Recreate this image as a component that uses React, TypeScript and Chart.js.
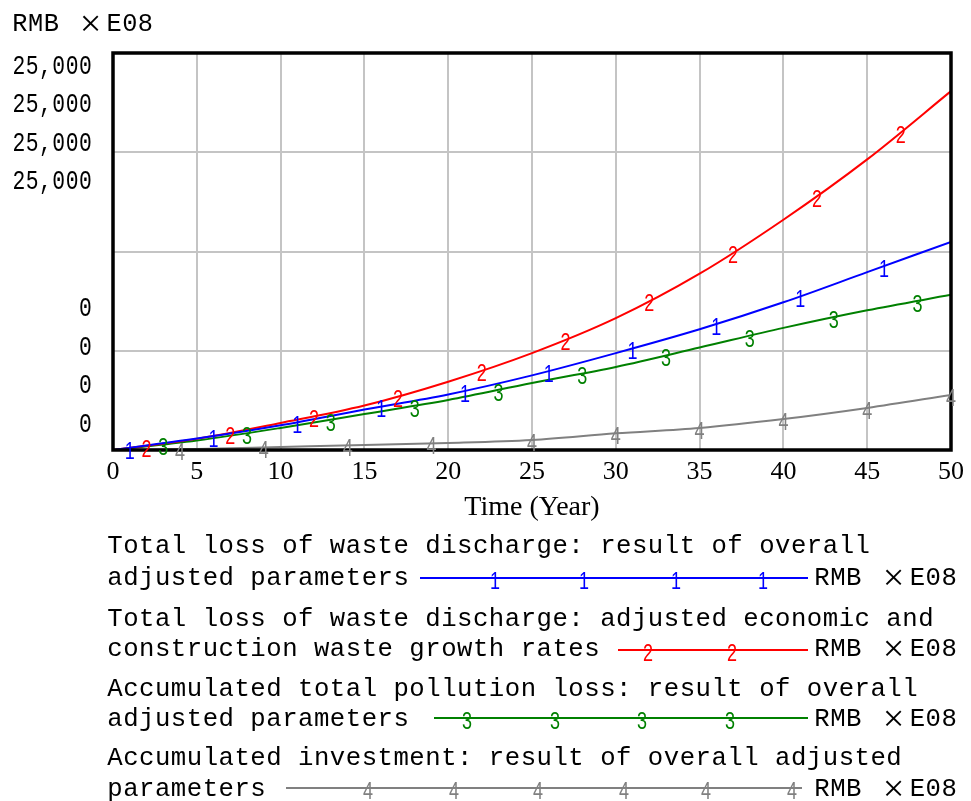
import React, { useEffect, useRef } from "react";
import { Chart, registerables } from "chart.js";

Chart.register(...registerables);

// Simulation time axis (years) and the four simulated series, in RMB ×E08
const years = [0, 5, 10, 15, 20, 25, 30, 35, 40, 45, 50];
const lossOverall = [0, 720, 1560, 2550, 3500, 4700, 6100, 7600, 9300, 11200, 13100];
const lossGrowthRates = [0, 700, 1700, 2800, 4300, 6100, 8300, 11100, 14500, 18300, 22600];
const pollutionLoss = [0, 600, 1390, 2270, 3150, 4220, 5230, 6450, 7690, 8800, 9770];
const investment = [0, 60, 190, 320, 440, 630, 1050, 1390, 1950, 2650, 3470];

// Axis texts
const unitLabel = "RMB ×E08";
const yTopLabels = ["25,000", "25,000", "25,000", "25,000"];
const yBottomLabels = ["0", "0", "0", "0"];
const xTitle = "Time (Year)";

// Legend captions
const captionLoss = ["Total loss of waste discharge: result of overall", "adjusted parameters"];
const captionGrowth = ["Total loss of waste discharge: adjusted economic and", "construction waste growth rates"];
const captionPollution = ["Accumulated total pollution loss: result of overall", "adjusted parameters"];
const captionInvestment = ["Accumulated investment: result of overall adjusted", "parameters"];

const SERIF = '"Liberation Serif", "Times New Roman", serif';
const MONO = '"Liberation Mono", "Courier New", monospace';
const SANS = '"Liberation Sans", Arial, sans-serif';

type SeriesDef = {
  values: number[];
  color: string;
  digit: string;
  marks: number[];
  caption: string[];
  baselines: number[];
  legendLine: { y: number; x0: number; x1: number; marks: number[] };
};

const series: SeriesDef[] = [
  {
    values: lossOverall,
    color: "#0000ff",
    digit: "1",
    marks: [1, 6, 11, 16, 21, 26, 31, 36, 41, 46],
    caption: captionLoss,
    baselines: [553, 585],
    legendLine: { y: 578, x0: 420, x1: 808, marks: [495, 584, 676, 763] },
  },
  {
    values: lossGrowthRates,
    color: "#ff0000",
    digit: "2",
    marks: [2, 7, 12, 17, 22, 27, 32, 37, 42, 47],
    caption: captionGrowth,
    baselines: [626, 656],
    legendLine: { y: 650, x0: 618, x1: 808, marks: [648, 732] },
  },
  {
    values: pollutionLoss,
    color: "#008000",
    digit: "3",
    marks: [3, 8, 13, 18, 23, 28, 33, 38, 43, 48],
    caption: captionPollution,
    baselines: [696, 726],
    legendLine: { y: 718, x0: 434, x1: 808, marks: [467, 555, 642, 730] },
  },
  {
    values: investment,
    color: "#808080",
    digit: "4",
    marks: [4, 9, 14, 19, 25, 30, 35, 40, 45, 50],
    caption: captionInvestment,
    baselines: [765, 796],
    legendLine: { y: 788, x0: 286, x1: 802, marks: [368, 454, 538, 624, 706, 792] },
  },
];

// Linear interpolation along a series at time t
function valueAt(values: number[], t: number): number {
  const step = years[1] - years[0];
  const i = Math.min(Math.floor(t / step), years.length - 2);
  const f = (t - years[i]) / step;
  return values[i] + (values[i + 1] - values[i]) * f;
}

// Fixed-pitch text: each character sits in its own cell (× takes two cells)
function drawMono(
  ctx: CanvasRenderingContext2D,
  text: string,
  x: number,
  baseline: number,
  adv: number,
  size: number,
  align: "left" | "right" = "left"
) {
  const cellsOf = (ch: string) => (ch === "×" ? 2 : 1);
  let total = 0;
  for (const ch of text) total += cellsOf(ch) * adv;
  let cx = align === "right" ? x - total : x;
  ctx.save();
  ctx.fillStyle = "#000";
  ctx.textAlign = "center";
  ctx.textBaseline = "alphabetic";
  for (const ch of text) {
    const w = cellsOf(ch) * adv;
    if (ch !== " ") {
      const isTimes = ch === "×";
      ctx.font = isTimes ? `${size * 1.45}px ${SERIF}` : `${size}px ${MONO}`;
      const mw = ctx.measureText(ch).width;
      const s = Math.min(1, (w - 0.5) / mw);
      ctx.save();
      ctx.translate(cx + w / 2, baseline + (isTimes ? 5 : 0));
      ctx.scale(s, 1);
      ctx.fillText(ch, 0, 0);
      ctx.restore();
    }
    cx += w;
  }
  ctx.restore();
}

// Series number drawn on its line, the line running through the digit's top
function drawDigit(ctx: CanvasRenderingContext2D, d: string, x: number, lineY: number, color: string) {
  ctx.save();
  ctx.font = `24px ${SANS}`;
  ctx.fillStyle = color;
  ctx.textAlign = "center";
  ctx.textBaseline = "alphabetic";
  ctx.translate(x, lineY + 11);
  ctx.scale(0.75, 1);
  ctx.fillText(d, 0, 0);
  ctx.restore();
}

const overlayPlugin = {
  id: "vensimOverlay",
  afterDatasetsDraw(chart: Chart) {
    const { ctx, chartArea: a, scales } = chart;
    // plot frame
    ctx.save();
    ctx.strokeStyle = "#000";
    ctx.lineWidth = 3.5;
    ctx.strokeRect(a.left, a.top, a.right - a.left, a.bottom - a.top);
    ctx.restore();
    // series numbers along each curve
    series.forEach((s) => {
      s.marks.forEach((t) => {
        const x = scales.x.getPixelForValue(t);
        const y = scales.y.getPixelForValue(valueAt(s.values, t));
        drawDigit(ctx, s.digit, x, y, s.color);
      });
    });
  },
  afterDraw(chart: Chart) {
    const { ctx } = chart;
    // unit caption above the value axis
    drawMono(ctx, unitLabel, 12, 31, 15.7, 26.5);
    // stacked scale labels
    yTopLabels.forEach((t, i) => drawMono(ctx, t, 92, 74 + i * 38.4, 13.3, 27, "right"));
    yBottomLabels.forEach((t, i) => drawMono(ctx, t, 92, 316 + i * 38.6, 13.3, 27, "right"));
    // legend
    series.forEach((s) => {
      s.caption.forEach((line, i) => drawMono(ctx, line, 107, s.baselines[i], 15.9, 26.5));
      const L = s.legendLine;
      ctx.save();
      ctx.strokeStyle = s.color;
      ctx.lineWidth = 2;
      ctx.beginPath();
      ctx.moveTo(L.x0, L.y);
      ctx.lineTo(L.x1, L.y);
      ctx.stroke();
      ctx.restore();
      L.marks.forEach((mx) => drawDigit(ctx, s.digit, mx, L.y, s.color));
      drawMono(ctx, unitLabel, 814, s.baselines[1], 15.9, 26.5);
    });
  },
};

export default function App() {
  const ref = useRef<HTMLCanvasElement>(null);

  useEffect(() => {
    if (!ref.current) return;
    const chart = new Chart(ref.current, {
      type: "line",
      data: {
        datasets: series.map((s) => ({
          data: years.map((t, i) => ({ x: t, y: s.values[i] })),
          borderColor: s.color,
          backgroundColor: s.color,
          borderWidth: 2,
          pointRadius: 0,
          cubicInterpolationMode: "monotone" as const,
          fill: false,
        })),
      },
      options: {
        animation: false,
        responsive: false,
        events: [],
        layout: { padding: { left: 0, top: 53, right: 18, bottom: 277 } },
        plugins: { legend: { display: false }, tooltip: { enabled: false } },
        scales: {
          x: {
            type: "linear",
            min: 0,
            max: 50,
            ticks: {
              stepSize: 5,
              autoSkip: false,
              maxRotation: 0,
              padding: 7,
              color: "#000",
              font: { family: SERIF, size: 26 },
            },
            grid: { color: "#c4c4c4", lineWidth: 2, drawTicks: false },
            border: { display: false },
            title: {
              display: true,
              text: xTitle,
              color: "#000",
              padding: 0,
              font: { family: SERIF, size: 28 },
            },
            afterFit(scale: any) {
              scale.height = 74;
            },
          },
          y: {
            min: 0,
            max: 25000,
            ticks: { display: false, stepSize: 6250 },
            grid: { color: "#c4c4c4", lineWidth: 2, drawTicks: false },
            border: { display: false },
            afterFit(scale: any) {
              scale.width = 113;
            },
          },
        },
      },
      plugins: [overlayPlugin],
    });
    return () => chart.destroy();
  }, []);

  return (
    <div style={{ position: "absolute", left: 0, top: 0, width: 971, height: 801, background: "#fff" }}>
      <canvas ref={ref} width={971} height={801} style={{ display: "block" }} />
    </div>
  );
}
